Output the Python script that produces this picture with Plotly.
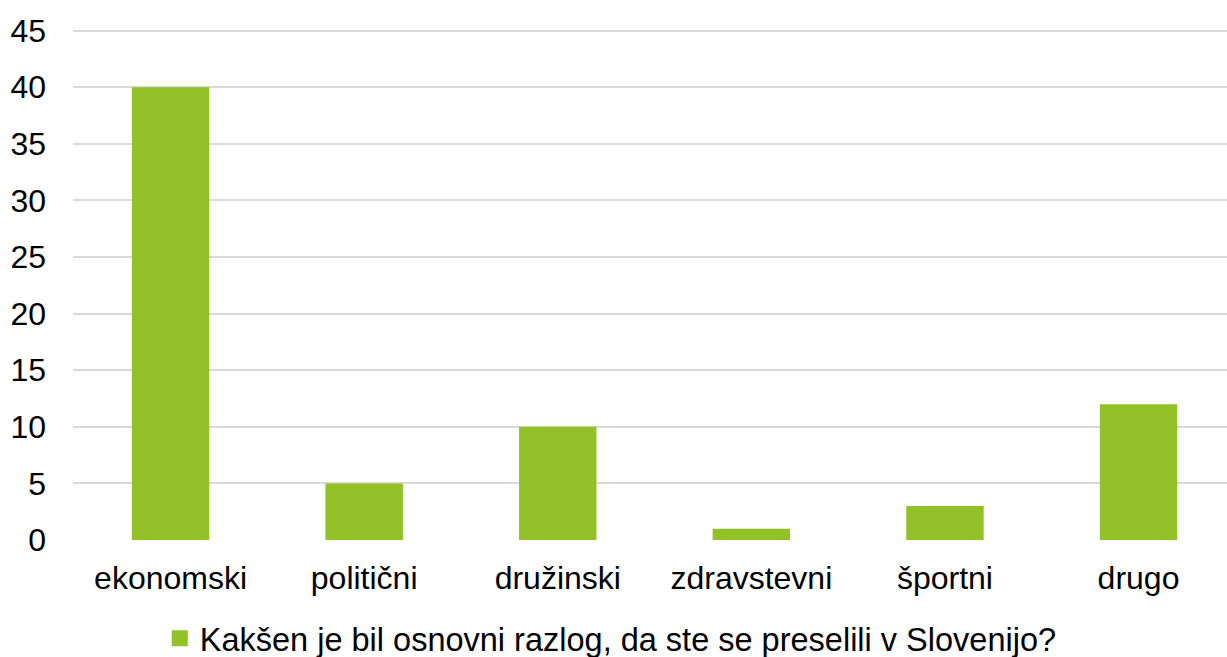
import plotly.graph_objects as go

categories = ["ekonomski", "politični", "družinski", "zdravstevni", "športni", "drugo"]
values = [40, 5, 10, 1, 3, 12]
series_name = "Kakšen je bil osnovni razlog, da ste se preselili v Slovenijo?"
y_ticks = [0, 5, 10, 15, 20, 25, 30, 35, 40, 45]
bar_color = "#92C128"

fig = go.Figure()
fig.add_trace(go.Bar(x=categories, y=values, name=series_name, showlegend=False,
                     marker=dict(color=bar_color, line=dict(width=0))))
# legend entry with a larger square swatch
fig.add_trace(go.Scatter(x=[None], y=[None], mode="markers", name=series_name,
                         marker=dict(symbol="square", size=18, color=bar_color)))

fig.update_layout(
    width=1227, height=657,
    margin=dict(l=73, r=0, t=29, b=117, autoexpand=False),
    paper_bgcolor="white", plot_bgcolor="white",
    font=dict(family="Liberation Sans, Arial, sans-serif", size=32, color="#000000"),
    bargap=0.6,
    showlegend=True,
    legend=dict(orientation="h", x=0.466, xanchor="center", y=-0.193, yanchor="middle",
                font=dict(size=32.5), itemwidth=30, tracegroupgap=0),
    xaxis=dict(showgrid=False, showline=False, ticks="", tickfont=dict(size=32),
               ticklabelstandoff=16, automargin=False, range=[-0.504, 5.457]),
    yaxis=dict(range=[0, 45.15], tickvals=y_ticks, showgrid=True, gridcolor="#D9D9D9",
               gridwidth=2, zeroline=False, showline=False, ticks="",
               tickfont=dict(size=32), ticklabelstandoff=26, automargin=False),
)

fig.write_html("out.html", config={"displayModeBar": False},
               post_script="document.body.style.margin='0';document.body.style.overflow='hidden';")
